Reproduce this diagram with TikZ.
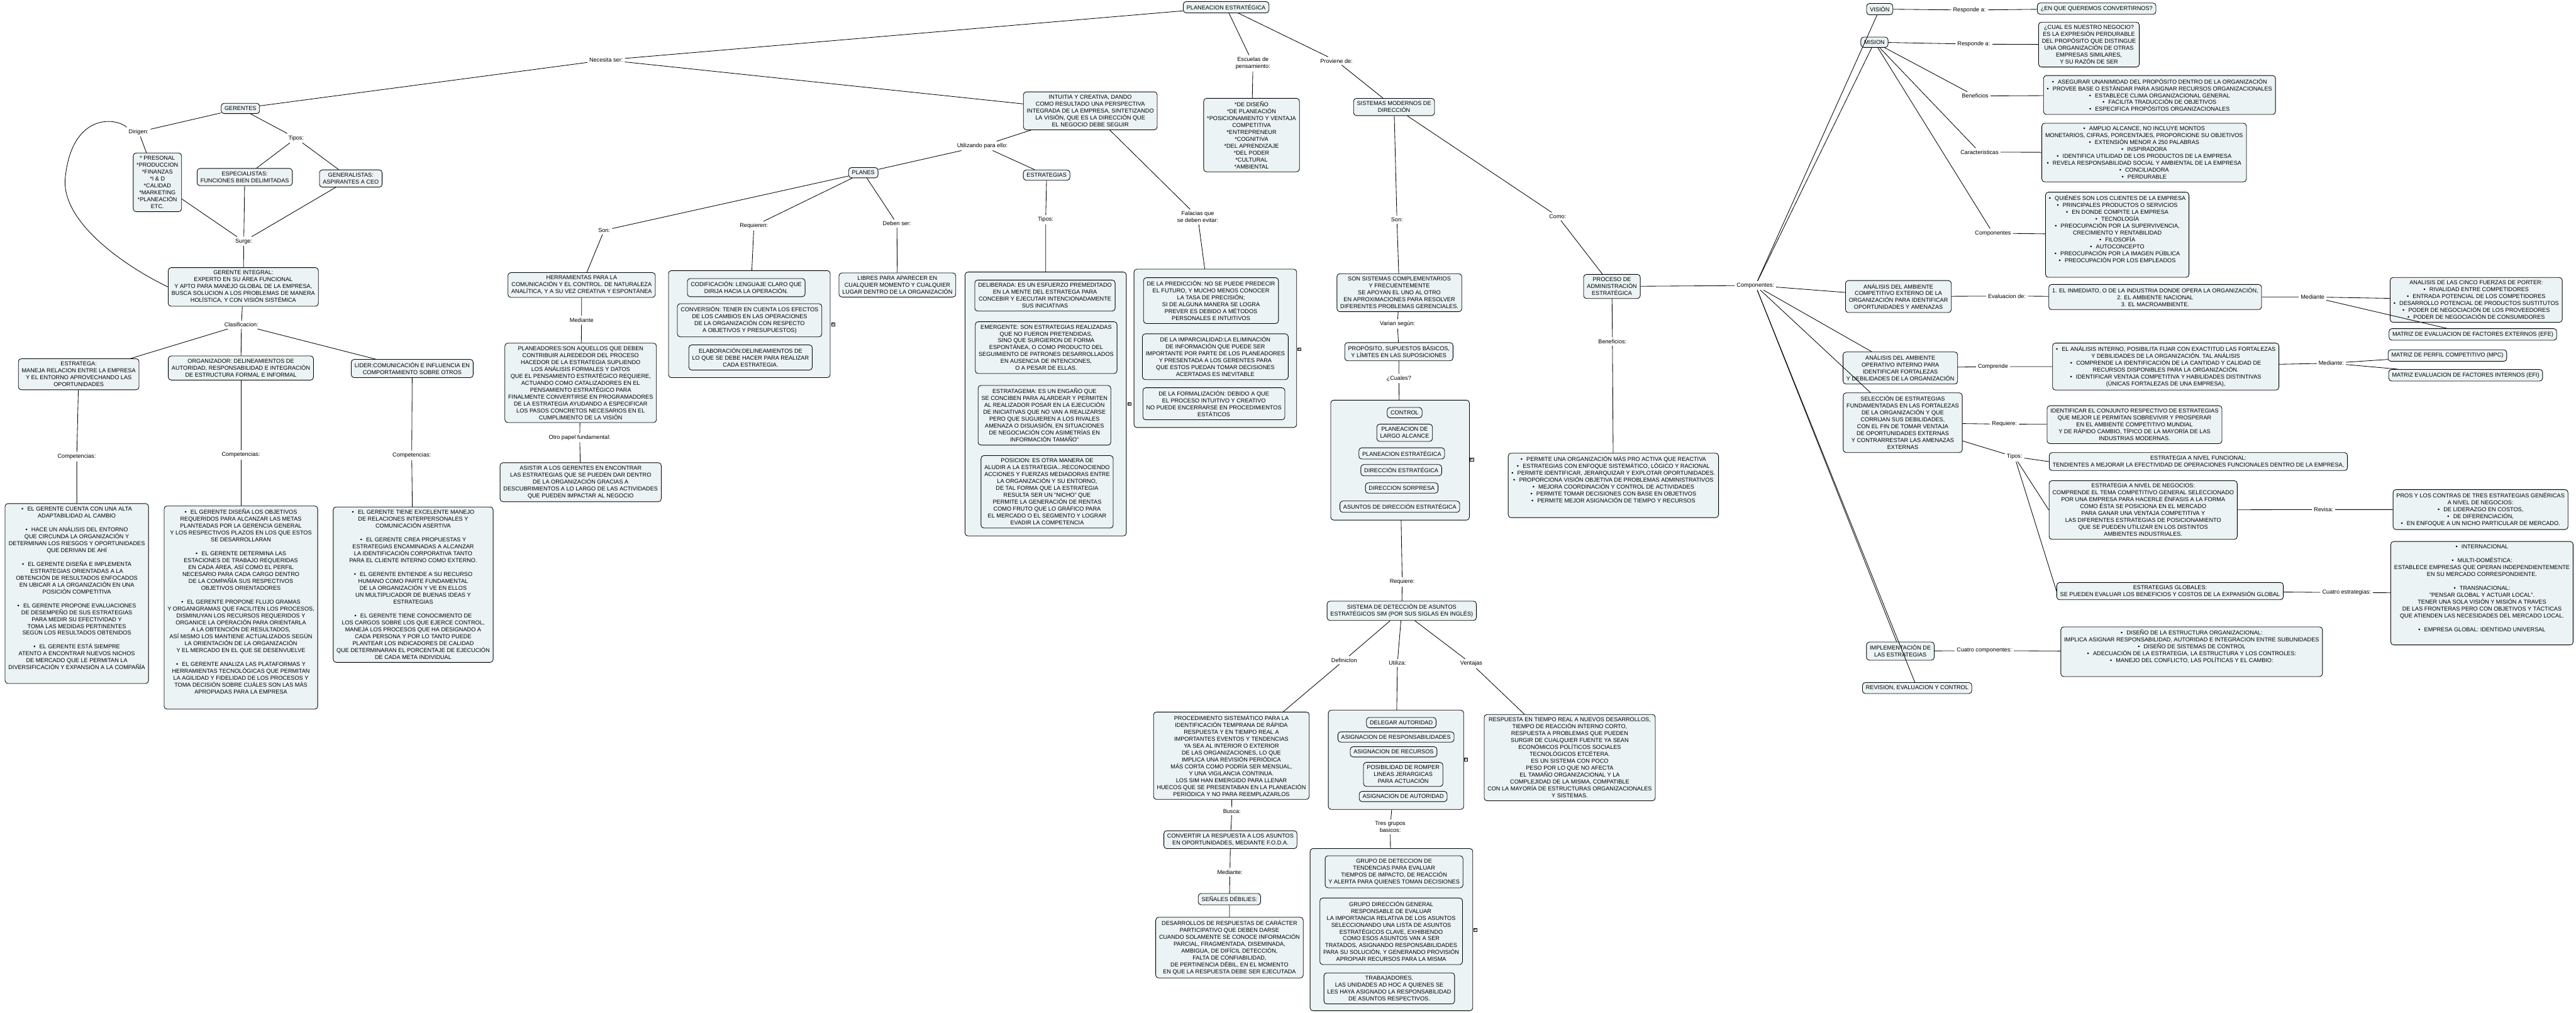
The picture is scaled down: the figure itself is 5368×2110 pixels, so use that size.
\documentclass[tikz,border=0pt]{standalone}
\usepackage{fontspec}
\setmainfont{Liberation Sans}
\definecolor{boxfill}{RGB}{236,243,245}
\newcommand{\fs}{\fontsize{12}{14.4}\selectfont}
\newcommand{\bul}{•\hspace{8pt}}
\begin{document}
\begin{tikzpicture}[x=1pt,y=-1pt,
 box/.style={draw=black,line width=1.1pt,fill=boxfill,rounded corners=6pt,align=center,inner xsep=7pt,inner ysep=6.5pt,font=\fs},
 lbl/.style={align=center,inner sep=4pt,font=\fs},
 cont/.style={draw=black,line width=1.1pt,fill=boxfill,rounded corners=6pt,inner sep=0pt},
 con/.style={line width=1.1pt},
 mk/.style={draw=black,line width=0.8pt,fill=white,inner sep=0.6pt,font=\fontsize{10}{10}\selectfont}]
\fill[white] (0,0) rectangle (5368,2110);
\useasboundingbox (0,0) rectangle (5368,2110);

% ---------- containers ----------
\node[cont,minimum width=337pt,minimum height=223pt] (reqc) at (1561.5,675.5) {};
\node[cont,minimum width=336pt,minimum height=550pt] (tipc) at (2179,842) {};
\node[cont,minimum width=339pt,minimum height=330pt] (falc) at (2532.5,726) {};
\node[cont,minimum width=289pt,minimum height=250pt] (cuac) at (2917.5,959) {};
\node[cont,minimum width=282pt,minimum height=207pt] (utzc) at (2909,1583.5) {};
\node[cont,minimum width=339pt,minimum height=338pt] (tresc) at (2899.5,1937.5) {};

% ---------- left part ----------
\node[box] (pe) at (2555,15) {PLANEACION ESTRATÉGICA};
\node[lbl] (lNec) at (1263,125) {Necesita ser:};
\node[box] (ger) at (501,226) {GERENTES};
\node[lbl] (lDir) at (289,275) {Dirigen:};
\node[lbl] (lTip1) at (617,288) {Tipos:};
\node[box] (pres) at (328,380) {* PRESONAL\\*PRODUCCION\\*FINANZAS\\*I \& D\\*CALIDAD\\*MARKETING\\*PLANEACIÓN\\ETC.};
\node[box] (espe) at (510,369) {ESPECIALISTAS:\\FUNCIONES BIEN DELIMITADAS};
\node[box] (gene) at (731,372) {GENERALISTAS:\\ASPIRANTES A CEO};
\node[lbl] (lSur) at (508,503) {Surge:};
\node[box] (gi) at (507,598) {GERENTE INTEGRAL:\\EXPERTO EN SU ÁREA FUNCIONAL\\Y APTO PARA MANEJO GLOBAL DE LA EMPRESA,\\BUSCA SOLUCION A LOS PROBLEMAS DE MANERA\\HOLÍSTICA, Y CON VISIÓN SISTÉMICA};
\node[lbl] (lCla) at (503,677) {Clasificacion:};
\node[box] (estg) at (164,780) {ESTRATEGA:\\MANEJA RELACION ENTRE LA EMPRESA\\Y EL ENTORNO APROVECHANDO LAS\\OPORTUNIDADES};
\node[box] (orga) at (502,767) {ORGANIZADOR: DELINEAMIENTOS DE\\AUTORIDAD, RESPONSABILIDAD E INTEGRACIÓN\\DE ESTRUCTURA FORMAL E INFORMAL};
\node[box] (lid) at (859,768) {LIDER:COMUNICACIÓN E INFLUENCIA EN\\COMPORTAMIENTO SOBRE OTROS};
\node[lbl] (lC1) at (160,952) {Competencias:};
\node[lbl] (lC2) at (502,948) {Competencias:};
\node[lbl] (lC3) at (858,949) {Competencias:};
\node[box,anchor=north] (c1) at (160,1049) {\bul EL GERENTE CUENTA CON UNA ALTA\\ADAPTABILIDAD AL CAMBIO\\[14.4pt]\bul HACE UN ANÁLISIS DEL ENTORNO\\QUE CIRCUNDA LA ORGANIZACIÓN Y\\DETERMINAN LOS RIESGOS Y OPORTUNIDADES\\QUE DERIVAN DE AHÍ\\[14.4pt]\bul EL GERENTE DISEÑA E IMPLEMENTA\\ESTRATEGIAS ORIENTADAS A LA\\OBTENCIÓN DE RESULTADOS ENFOCADOS\\EN UBICAR A LA ORGANIZACIÓN EN UNA\\POSICIÓN COMPETITIVA\\[14.4pt]\bul EL GERENTE PROPONE EVALUACIONES\\DE DESEMPEÑO DE SUS ESTRATEGIAS\\PARA MEDIR SU EFECTIVIDAD Y\\TOMA LAS MEDIDAS PERTINENTES\\SEGÚN LOS RESULTADOS OBTENIDOS\\[14.4pt]\bul EL GERENTE ESTÁ SIEMPRE\\ATENTO A ENCONTRAR NUEVOS NICHOS\\DE MERCADO QUE LE PERMITAN LA\\DIVERSIFICACIÓN Y EXPANSIÓN A LA COMPAÑÍA\\[8pt]\mbox{}};
\node[box,anchor=north] (c2) at (502,1054) {\bul EL GERENTE DISEÑA LOS OBJETIVOS\\REQUERIDOS PARA ALCANZAR LAS METAS\\PLANTEADAS POR LA GERENCIA GENERAL\\Y LOS RESPECTIVOS PLAZOS EN LOS QUE ESTOS\\SE DESARROLLARAN\\[14.4pt]\bul EL GERENTE DETERMINA LAS\\ESTACIONES DE TRABAJO REQUERIDAS\\EN CADA ÁREA, ASÍ COMO EL PERFIL\\NECESARIO PARA CADA CARGO DENTRO\\DE LA COMPAÑÍA SUS RESPECTIVOS\\OBJETIVOS ORIENTADORES\\[14.4pt]\bul EL GERENTE PROPONE FLUJO GRAMAS\\Y ORGANIGRAMAS QUE FACILITEN LOS PROCESOS,\\DISMINUYAN LOS RECURSOS REQUERIDOS Y\\ORGANICE LA OPERACIÓN PARA ORIENTARLA\\A LA OBTENCIÓN DE RESULTADOS,\\ASÍ MISMO LOS MANTIENE ACTUALIZADOS SEGÚN\\LA ORIENTACIÓN DE LA ORGANIZACIÓN\\Y EL MERCADO EN EL QUE SE DESENVUELVE\\[14.4pt]\bul EL GERENTE ANALIZA LAS PLATAFORMAS Y\\HERRAMIENTAS TECNOLÓGICAS QUE PERMITAN\\LA AGILIDAD Y FIDELIDAD DE LOS PROCESOS Y\\TOMA DECISIÓN SOBRE CUÁLES SON LAS MÁS\\APROPIADAS PARA LA EMPRESA\\[11pt]\mbox{}};
\node[box,anchor=north] (c3) at (861,1056) {\bul EL GERENTE TIENE EXCELENTE MANEJO\\DE RELACIONES INTERPERSONALES Y\\COMUNICACIÓN ASERTIVA\\[14.4pt]\bul EL GERENTE CREA PROPUESTAS Y\\ESTRATEGIAS ENCAMINADAS A ALCANZAR\\LA IDENTIFICACIÓN CORPORATIVA TANTO\\PARA EL CLIENTE INTERNO COMO EXTERNO.\\[14.4pt]\bul EL GERENTE ENTIENDE A SU RECURSO\\HUMANO COMO PARTE FUNDAMENTAL\\DE LA ORGANIZACIÓN Y VE EN ELLOS\\UN MULTIPLICADOR DE BUENAS IDEAS Y\\ESTRATEGIAS\\[14.4pt]\bul EL GERENTE TIENE CONOCIMIENTO DE\\LOS CARGOS SOBRE LOS QUE EJERCE CONTROL,\\MANEJA LOS PROCESOS QUE HA DESIGNADO A\\CADA PERSONA Y POR LO TANTO PUEDE\\PLANTEAR LOS INDICADORES DE CALIDAD\\QUE DETERMINARAN EL PORCENTAJE DE EJECUCIÓN\\DE CADA META INDIVIDUAL};

% ---------- centre-left ----------
\node[box] (intu) at (2272,231) {INTUITIA Y CREATIVA, DANDO\\COMO RESULTADO UNA PERSPECTIVA\\INTEGRADA DE LA EMPRESA, SINTETIZANDO\\LA VISIÓN, QUE ES LA DIRECCIÓN QUE\\EL NEGOCIO DEBE SEGUIR};
\node[lbl] (lEsc) at (2611,132) {Escuelas de\\pensamiento:};
\node[box] (dise) at (2608,281.5) {*DE DISEÑO\\*DE PLANEACIÓN\\*POSICIONAMIENTO Y VENTAJA\\COMPETITIVA\\*ENTREPRENEUR\\*COGNITIVA\\*DEL APRENDIZAJE\\*DEL PODER\\*CULTURAL\\*AMBIENTAL};
\node[lbl] (lUti) at (2047,304) {Utilizando para ello:};
\node[box] (plan) at (1799,360) {PLANES};
\node[box] (estr) at (2181,365) {ESTRATEGIAS};
\node[lbl] (lSon1) at (1259,480) {Son:};
\node[lbl] (lReq) at (1571,471) {Requieren:};
\node[lbl] (lDeb) at (1869,466) {Deben ser:};
\node[lbl] (lTip2) at (2179,458) {Tipos:};
\node[lbl] (lFal) at (2496,452) {Falacias que\\se deben evitar:};
\node[box] (herr) at (1212,594) {HERRAMIENTAS PARA LA\\COMUNICACIÓN Y EL CONTROL. DE NATURALEZA\\ANALÍTICA, Y A SU VEZ CREATIVA Y ESPONTÁNEA};
\node[lbl] (lMed1) at (1212,667) {Mediante};
\node[box] (plnd) at (1210,798) {PLANEADORES:SON AQUELLOS QUE DEBEN\\CONTRIBUIR ALREDEDOR DEL PROCESO\\HACEDOR DE LA ESTRATEGIA SUPLIENDO\\LOS ANÁLISIS FORMALES Y DATOS\\QUE EL PENSAMIENTO ESTRATÉGICO REQUIERE,\\ACTUANDO COMO CATALIZADORES EN EL\\PENSAMIENTO ESTRATÉGICO PARA\\FINALMENTE CONVERTIRSE EN PROGRAMADORES\\DE LA ESTRATEGIA AYUDANDO A ESPECIFICAR\\LOS PASOS CONCRETOS NECESARIOS EN EL\\CUMPLIMIENTO DE LA VISIÓN};
\node[lbl] (lOtro) at (1208,912) {Otro papel fundamental:};
\node[box] (asis) at (1210,1005) {ASISTIR A LOS GERENTES EN ENCONTRAR\\LAS ESTRATEGIAS QUE SE PUEDEN DAR DENTRO\\DE LA ORGANIZACIÓN GRACIAS A\\DESCUBRIMIENTOS A LO LARGO DE LAS ACTIVIDADES\\QUE PUEDEN IMPACTAR AL NEGOCIO};
\node[box] (cod) at (1555,599.5) {CODIFICACIÓN: LENGUAJE CLARO QUE\\DIRIJA HACIA LA OPERACIÓN.};
\node[box] (cnv) at (1562,667.5) {CONVERSIÓN: TENER EN CUENTA LOS EFECTOS\\DE LOS CAMBIOS EN LAS OPERACIONES\\DE LA ORGANIZACIÓN CON RESPECTO\\A OBJETIVOS Y PRESUPUESTOS)};
\node[box] (elab) at (1564,745) {ELABORACIÓN:DELINEAMIENTOS DE\\LO QUE SE DEBE HACER PARA REALIZAR\\CADA ESTRATEGIA.};
\node[box] (libr) at (1870,594) {LIBRES PARA APARECER EN\\CUALQUIER MOMENTO Y CUALQUIER\\LUGAR DENTRO DE LA ORGANIZACIÓN};
\node[box] (deli) at (2177.5,616) {DELIBERADA: ES UN ESFUERZO PREMEDITADO\\EN LA MENTE DEL ESTRATEGA PARA\\CONCEBIR Y EJECUTAR INTENCIONADAMENTE\\SUS INICIATIVAS};
\node[box] (emer) at (2180,724.5) {EMERGENTE: SON ESTRATEGIAS REALIZADAS\\QUE NO FUERON PRETENDIDAS,\\SINO QUE SURGIERON DE FORMA\\ESPONTÁNEA, O COMO PRODUCTO DEL\\SEGUIMIENTO DE PATRONES DESARROLLADOS\\EN AUSENCIA DE INTENCIONES,\\O A PESAR DE ELLAS.};
\node[box] (stgm) at (2176.5,865.5) {ESTRATAGEMA: ES UN ENGAÑO QUE\\SE CONCIBEN PARA ALARDEAR Y PERMITEN\\AL REALIZADOR POSAR EN LA EJECUCIÓN\\DE INICIATIVAS QUE NO VAN A REALIZARSE\\PERO QUE SUGUIEREN A LOS RIVALES\\AMENAZA O DISUASIÓN, EN SITUACIONES\\DE NEGOCIACIÓN CON ASIMETRÍAS EN\\INFORMACIÓN TAMAÑO"};
\node[box] (posi) at (2182,1025) {POSICION: ES OTRA MANERA DE\\ALUDIR A LA ESTRATEGIA...RECONOCIENDO\\ACCIONES Y FUERZAS MEDIADORAS ENTRE\\LA ORGANIZACIÓN Y SU ENTORNO,\\DE TAL FORMA QUE LA ESTRATEGIA\\RESULTA SER UN "NICHO" QUE\\PERMITE LA GENERACIÓN DE RENTAS\\COMO FRUTO QUE LO GRÁFICO PARA\\EL MERCADO O EL SEGMENTO Y LOGRAR\\EVADIR LA COMPETENCIA};
\node[box] (pred) at (2523.5,626.5) {DE LA PREDICCIÓN: NO SE PUEDE PREDECIR\\EL FUTURO, Y MUCHO MENOS CONOCER\\LA TASA DE PRECISIÓN;\\SI DE ALGUNA MANERA SE LOGRA\\PREVER ES DEBIDO A MÉTODOS\\PERSONALES E INTUITIVOS};
\node[box] (impa) at (2532.5,743.5) {DE LA IMPARCIALIDAD:LA ELIMINACIÓN\\DE INFORMACIÓN QUE PUEDE SER\\IMPORTANTE POR PARTE DE LOS PLANEADORES\\Y PRESENTADA A LOS GERENTES PARA\\QUE ESTOS PUEDAN TOMAR DECISIONES\\ACERTADAS ES INEVITABLE};
\node[box] (form) at (2529.5,841.5) {DE LA FORMALIZACIÓN: DEBIDO A QUE\\EL PROCESO INTUITIVO Y CREATIVO\\NO PUEDE ENCERRARSE EN PROCEDIMIENTOS\\ESTÁTICOS};

% ---------- centre ----------
\node[lbl] (lPro) at (2785,127) {Proviene de:};
\node[box] (sist) at (2905,223) {SISTEMAS MODERNOS DE\\DIRECCIÓN};
\node[lbl] (lSon2) at (2911,458) {Son:};
\node[lbl] (lComo) at (3246,451) {Como:};
\node[box] (ssc) at (2916,610) {SON SISTEMAS COMPLEMENTARIOS\\Y FRECUENTEMENTE\\SE APOYAN EL UNO AL OTRO\\EN APROXIMACIONES PARA RESOLVER\\DIFERENTES PROBLEMAS GERENCIALES.};
\node[lbl] (lVar) at (2912,675) {Varian según:};
\node[box] (prop) at (2915,733) {PROPÓSITO, SUPUESTOS BÁSICOS,\\Y LÍMITES EN LAS SUPOSICIONES};
\node[lbl] (lCua) at (2915,789) {¿Cuales?};
\node[box] (ctrl) at (2927,860) {CONTROL};
\node[box] (pla) at (2927,902) {PLANEACION DE\\LARGO ALCANCE};
\node[box] (ples) at (2921,945) {PLANEACION ESTRATÉGICA};
\node[box] (dies) at (2920,980) {DIRECCIÓN ESTRATÉGICA};
\node[box] (disr) at (2921,1017) {DIRECCION SORPRESA};
\node[box] (asun) at (2917,1056) {ASUNTOS DE DIRECCIÓN ESTRATÉGICA};
\node[lbl] (lReq2) at (2922,1213) {Requiere:};
\node[box] (sim) at (2921,1273) {SISTEMA DE DETECCIÓN DE ASUNTOS\\ESTRATÉGICOS SIM (POR SUS SIGLAS EN INGLÉS)};
\node[lbl] (lDef) at (2801,1376) {DefinicIon};
\node[lbl] (lUtz) at (2912,1382) {Utiliza:};
\node[lbl] (lVen) at (3066,1383) {Ventajas};
\node[box] (proc) at (2566,1575) {PROCEDIMIENTO SISTEMÁTICO PARA LA\\IDENTIFICACIÓN TEMPRANA DE RÁPIDA\\RESPUESTA Y EN TIEMPO REAL A\\IMPORTANTES EVENTOS Y TENDENCIAS\\YA SEA AL INTERIOR O EXTERIOR\\DE LAS ORGANIZACIONES, LO QUE\\IMPLICA UNA REVISIÓN PERIÓDICA\\MÁS CORTA COMO PODRÍA SER MENSUAL,\\Y UNA VIGILANCIA CONTINUA.\\LOS SIM HAN EMERGIDO PARA LLENAR\\HUECOS QUE SE PRESENTABAN EN LA PLANEACIÓN\\PERIÓDICA Y NO PARA REEMPLAZARLOS};
\node[lbl] (lBus) at (2567,1691) {Busca:};
\node[box] (conv) at (2564,1750) {CONVERTIR LA RESPUESTA A LOS ASUNTOS\\EN OPORTUNIDADES, MEDIANTE F.O.D.A.};
\node[lbl] (lMed2) at (2563,1818) {Mediante:};
\node[box] (sen) at (2562,1874) {SEÑALES DÉBILIES:};
\node[box] (desa) at (2562,1975) {DESARROLLOS DE RESPUESTAS DE CARÁCTER\\PARTICIPATIVO QUE DEBEN DARSE\\CUANDO SOLAMENTE SE CONOCE INFORMACIÓN\\PARCIAL, FRAGMENTADA, DISEMINADA,\\AMBIGUA, DE DIFÍCIL DETECCIÓN,\\FALTA DE CONFIABILIDAD,\\DE PERTINENCIA DÉBIL, EN EL MOMENTO\\EN QUE LA RESPUESTA DEBE SER EJECUTADA};
\node[box] (dele) at (2920,1506) {DELEGAR AUTORIDAD};
\node[box] (asre) at (2909,1536) {ASIGNACION DE RESPONSABILIDADES};
\node[box] (asrc) at (2904,1567) {ASIGNACION DE RECURSOS};
\node[box] (posr) at (2924,1614) {POSIBILIDAD DE ROMPER\\LINEAS JERARGICAS\\PARA ACTUACIÓN};
\node[box] (asau) at (2924,1660) {ASIGNACION DE AUTORIDAD};
\node[box] (resp) at (3271,1579) {RESPUESTA EN TIEMPO REAL A NUEVOS DESARROLLOS,\\TIEMPO DE REACCIÓN INTERNO CORTO,\\RESPUESTA A PROBLEMAS QUE PUEDEN\\SURGIR DE CUALQUIER FUENTE YA SEAN\\ECONÓMICOS POLÍTICOS SOCIALES\\TECNOLÓGICOS ETCÉTERA.\\ES UN SISTEMA CON POCO\\PESO POR LO QUE NO AFECTA\\EL TAMAÑO ORGANIZACIONAL Y LA\\COMPLEJIDAD DE LA MISMA, COMPATIBLE\\CON LA MAYORÍA DE ESTRUCTURAS ORGANIZACIONALES\\Y SISTEMAS.};
\node[lbl] (lTres) at (2897,1723) {Tres grupos\\basicos:};
\node[box] (gdet) at (2905,1817) {GRUPO DE DETECCION DE\\TENDENCIAS PARA EVALUAR\\TIEMPOS DE IMPACTO, DE REACCIÓN\\Y ALERTA PARA QUIENES TOMAN DECISIONES};
\node[box] (gdir) at (2899,1941) {GRUPO DIRECCIÓN GENERAL\\RESPONSABLE DE EVALUAR\\LA IMPORTANCIA RELATIVA DE LOS ASUNTOS\\SELECCIONANDO UNA LISTA DE ASUNTOS\\ESTRATÉGICOS CLAVE, EXHIBIENDO\\COMO ESOS ASUNTOS VAN A SER\\TRATADOS, ASIGNANDO RESPONSABILIDADES\\PARA SU SOLUCIÓN, Y GENERANDO PROVISIÓN\\APROPIAR RECURSOS PARA LA MISMA};
\node[box] (trab) at (2895,2060) {TRABAJADORES.\\LAS UNIDADES AD HOC A QUIENES SE\\LES HAYA ASIGNADO LA RESPONSABILIDAD\\DE ASUNTOS RESPECTIVOS.};
\node[box] (pad) at (3359,597) {PROCESO DE\\ADMINISTRACIÓN\\ESTRATÉGICA};
\node[lbl] (lComp) at (3658,595) {Componentes:};
\node[lbl] (lBen) at (3360,712) {Beneficios:};
\node[box,anchor=north] (ben) at (3362,944) {\bul PERMITE UNA ORGANIZACIÓN MÁS PRO ACTIVA QUE REACTIVA\\\bul ESTRATEGIAS CON ENFOQUE SISTEMÁTICO, LÓGICO Y RACIONAL\\\bul PERMITE IDENTIFICAR, JERARQUIZAR Y EXPLOTAR OPORTUNIDADES.\\\bul PROPORCIONA VISIÓN OBJETIVA DE PROBLEMAS ADMINISTRATIVOS\\\bul MEJORA COORDINACIÓN Y CONTROL DE ACTIVIDADES\\\bul PERMITE TOMAR DECISIONES CON BASE EN OBJETIVOS\\\bul PERMITE MEJOR ASIGNACIÓN DE TIEMPO Y RECURSOS\\[10pt]\mbox{}};

% ---------- right part ----------
\node[box] (vis) at (3917,19) {VISIÓN};
\node[box] (mis) at (3906,88) {MISION};
\node[lbl] (lRes1) at (4104,21) {Responde a:};
\node[box] (enq) at (4369,18) {¿EN QUE QUEREMOS CONVERTIRNOS?};
\node[lbl] (lRes2) at (4113,92) {Responde a:};
\node[box] (cual) at (4353,93) {¿CUAL ES NUESTRO NEGOCIO?\\ES LA EXPRESIÓN PERDURABLE\\DEL PROPÓSITO QUE DISTINGUE\\UNA ORGANIZACIÓN DE OTRAS\\EMPRESAS SIMILARES,\\Y SU RAZÓN DE SER};
\node[lbl] (lBen2) at (4116,200) {Beneficios};
\node[box] (aseg) at (4500,198) {\bul ASEGURAR UNANIMIDAD DEL PROPÓSITO DENTRO DE LA ORGANIZACIÓN\\\bul PROVEE BASE O ESTÁNDAR PARA ASIGNAR RECURSOS ORGANIZACIONALES\\\bul ESTABLECE CLIMA ORGANIZACIONAL GENERAL\\\bul FACILITA TRADUCCIÓN DE OBJETIVOS\\\bul ESPECIFICA PROPÓSITOS ORGANIZACIONALES};
\node[lbl] (lCar) at (4125,317) {Caracteristicas};
\node[box] (ampl) at (4468,318) {\bul AMPLIO ALCANCE, NO INCLUYE MONTOS\\MONETARIOS, CIFRAS, PORCENTAJES, PROPORCIONE SU OBJETIVOS\\\bul EXTENSIÓN MENOR A 250 PALABRAS\\\bul INSPIRADORA\\\bul IDENTIFICA UTILIDAD DE LOS PRODUCTOS DE LA EMPRESA\\\bul REVELA RESPONSABILIDAD SOCIAL Y AMBIENTAL DE LA EMPRESA\\\bul CONCILIADORA\\\bul PERDURABLE};
\node[lbl] (lComp2) at (4153,486) {Componentes};
\node[box,anchor=north] (quien) at (4412,400) {\bul QUIÉNES SON LOS CLIENTES DE LA EMPRESA\\\bul PRINCIPALES PRODUCTOS O SERVICIOS\\\bul EN DONDE COMPITE LA EMPRESA\\\bul TECNOLOGÍA\\\bul PREOCUPACIÓN POR LA SUPERVIVENCIA,\\CRECIMIENTO Y RENTABILIDAD\\\bul FILOSOFÍA\\\bul AUTOCONCEPTO\\\bul PREOCUPACIÓN POR LA IMAGEN PÚBLICA\\\bul PREOCUPACIÓN POR LOS EMPLEADOS\\[10pt]\mbox{}};
\node[box] (aext) at (3956,618) {ANÁLISIS DEL AMBIENTE\\COMPETITIVO EXTERNO DE LA\\ORGANIZACIÓN PARA IDENTIFICAR\\OPORTUNIDADES Y AMENAZAS};
\node[lbl] (lEva) at (4182,617) {Evaluacion de:};
\node[box] (inme) at (4491,619) {1. EL INMEDIATO, O DE LA INDUSTRIA DONDE OPERA LA ORGANIZACIÓN,\\2. EL AMBIENTE NACIONAL\\3. EL MACROAMBIENTE.};
\node[lbl] (lMed3) at (4819,619) {Mediante};
\node[box] (cinco) at (5160,625) {ANALISIS DE LAS CINCO FUERZAS DE PORTER:\\\bul RIVALIDAD ENTRE COMPETIDORES\\\bul ENTRADA POTENCIAL DE LOS COMPETIDORES\\\bul DESARROLLO POTENCIAL DE PRODUCTOS SUSTITUTOS\\\bul PODER DE NEGOCIACIÓN DE LOS PROVEEDORES\\\bul PODER DE NEGOCIACIÓN DE CONSUMIDORES};
\node[box] (efe) at (5153,697) {MATRIZ DE EVALUACION DE FACTORES EXTERNOS (EFE)};
\node[box] (aint) at (3960,767) {ANÁLISIS DEL AMBIENTE\\OPERATIVO INTERNO PARA\\IDENTIFICAR FORTALEZAS\\Y DEBILIDADES DE LA ORGANIZACIÓN};
\node[lbl] (lCompr) at (4153,764) {Comprende};
\node[box] (anint) at (4513,764) {\bul EL ANÁLISIS INTERNO, POSIBILITA FIJAR CON EXACTITUD LAS FORTALEZAS\\Y DEBILIDADES DE LA ORGANIZACIÓN. TAL ANÁLISIS\\\bul COMPRENDE LA IDENTIFICACIÓN DE LA CANTIDAD Y CALIDAD DE\\RECURSOS DISPONIBLES PARA LA ORGANIZACIÓN.\\\bul IDENTIFICAR VENTAJA COMPETITIVA Y HABILIDADES DISTINTIVAS\\(ÚNICAS FORTALEZAS DE UNA EMPRESA),};
\node[lbl] (lMed4) at (4858,757) {Mediante:};
\node[box] (mpc) at (5100,741) {MATRIZ DE PERFIL COMPETITIVO (MPC)};
\node[box] (efi) at (5138,782) {MATRIZ EVALUACION DE FACTORES INTERNOS (EFI)};
\node[box] (sel) at (3965,881) {SELECCIÓN DE ESTRATEGIAS\\FUNDAMENTADAS EN LAS FORTALEZAS\\DE LA ORGANIZACIÓN Y QUE\\CORRIJAN SUS DEBILIDADES,\\CON EL FIN DE TOMAR VENTAJA\\DE OPORTUNIDADES EXTERNAS\\Y CONTRARRESTAR LAS AMENAZAS\\EXTERNAS};
\node[lbl] (lReq3) at (4177,884) {Requiere:};
\node[box] (iden) at (4448,885) {IDENTIFICAR EL CONJUNTO RESPECTIVO DE ESTRATEGIAS\\QUE MEJOR LE PERMITAN SOBREVIVIR Y PROSPERAR\\EN EL AMBIENTE COMPETITIVO MUNDIAL\\Y DE RÁPIDO CAMBIO, TÍPICO DE LA MAYORÍA DE LAS\\INDUSTRIAS MODERNAS.};
\node[lbl] (lTip3) at (4198,952) {Tipos:};
\node[box] (func) at (4581,962) {ESTRATEGIA A NIVEL FUNCIONAL:\\TENDIENTES A MEJORAR LA EFECTIVIDAD DE OPERACIONES FUNCIONALES DENTRO DE LA EMPRESA,};
\node[box] (nego) at (4466,1063) {ESTRATEGIA A NIVEL DE NEGOCIOS:\\COMPRENDE EL TEMA COMPETITIVO GENERAL SELECCIONADO\\POR UNA EMPRESA PARA HACERLE ÉNFASIS A LA FORMA\\COMO ÉSTA SE POSICIONA EN EL MERCADO\\PARA GANAR UNA VENTAJA COMPETITIVA Y\\LAS DIFERENTES ESTRATEGIAS DE POSICIONAMIENTO\\QUE SE PUEDEN UTILIZAR EN LOS DISTINTOS\\AMBIENTES INDUSTRIALES.};
\node[lbl] (lRev) at (4842,1062) {Revisa:};
\node[box] (pros) at (5169,1062) {PROS Y LOS CONTRAS DE TRES ESTRATEGIAS GENÉRICAS\\A NIVEL DE NEGOCIOS:\\\bul DE LIDERAZGO EN COSTOS,\\\bul DE DIFERENCIACIÓN,\\\bul EN ENFOQUE A UN NICHO PARTICULAR DE MERCADO.};
\node[box] (glob) at (4522,1232) {ESTRATEGIAS GLOBALES:\\SE PUEDEN EVALUAR LOS BENEFICIOS Y COSTOS DE LA EXPANSIÓN GLOBAL};
\node[lbl] (lCua4) at (4890,1235) {Cuatro estrategias:};
\node[box,anchor=north] (inter) at (5172,1128) {\bul INTERNACIONAL\\[14.4pt]\bul MULTI-DOMÉSTICA:\\ESTABLECE EMPRESAS QUE OPERAN INDEPENDIENTEMENTE\\EN SU MERCADO CORRESPONDIENTE.\\[14.4pt]\bul TRANSNACIONAL:\\"PENSAR GLOBAL Y ACTUAR LOCAL".\\TENER UNA SOLA VISIÓN Y MISIÓN A TRAVES\\DE LAS FRONTERAS PERO CON OBJETIVOS Y TÁCTICAS\\QUE ATIENDEN LAS NECESIDADES DEL MERCADO LOCAL.\\[14.4pt]\bul EMPRESA GLOBAL: IDENTIDAD UNIVERSAL\\[7pt]\mbox{}};
\node[box] (impl) at (3960,1357) {IMPLEMENTACIÓN DE\\LAS ESTRATEGIAS};
\node[lbl] (lCua5) at (4135,1356) {Cuatro componentes:};
\node[box,anchor=north] (dsn) at (4567,1306) {\bul DISEÑO DE LA ESTRUCTURA ORGANIZACIONAL:\\IMPLICA ASIGNAR RESPONSABILIDAD, AUTORIDAD E INTEGRACION ENTRE SUBUNIDADES\\\bul DISEÑO DE SISTEMAS DE CONTROL\\\bul ADECUACIÓN DE LA ESTRATEGIA, LA ESTRUCTURA Y LOS CONTROLES:\\\bul MANEJO DEL CONFLICTO, LAS POLÍTICAS Y EL CAMBIO:\\[8pt]\mbox{}};
\node[box] (rev) at (3995,1434) {REVISION, EVALUACION Y CONTROL};

% ---------- collapse markers ----------
\node[mk] (mk1) at (1736,676) {«};
\node[mk] (mk2) at (2353,842) {«};
\node[mk] (mk3) at (2707,728) {«};
\node[mk] (mk4) at (3067,958) {«};
\node[mk] (mk5) at (3055,1583) {«};
\node[mk] (mk6) at (3074,1938) {«};

% ---------- connectors ----------
\draw[con] (pe) -- (lNec);
\draw[con] (lNec) -- (ger);
\draw[con] (lNec) -- (intu);
\draw[con] (pe) -- (lEsc) -- (dise);
\draw[con] (pe) -- (lPro) -- (sist);
\draw[con] (ger) -- (lDir) -- (pres);
\draw[con] (ger) -- (lTip1) -- (espe);
\draw[con] (lTip1) -- (gene);
\draw[con] (pres) -- (lSur);
\draw[con] (espe) -- (lSur);
\draw[con] (gene) -- (lSur);
\draw[con] (lSur) -- (gi);
\draw[con] (lDir.north west) .. controls (240,244) and (150,236) .. (136,370) .. controls (126,466) and (270,560) .. (gi.west);
\draw[con] (gi) -- (lCla);
\draw[con] (lCla) -- (estg);
\draw[con] (lCla) -- (orga);
\draw[con] (lCla) -- (lid);
\draw[con] (estg) -- (lC1) -- (c1);
\draw[con] (orga) -- (lC2) -- (c2);
\draw[con] (lid) -- (lC3) -- (c3);
\draw[con] (intu) -- (lUti);
\draw[con] (lUti) -- (plan);
\draw[con] (lUti) -- (estr);
\draw[con] (intu) -- (lFal) -- (falc);
\draw[con] (plan) -- (lSon1) -- (herr);
\draw[con] (plan) -- (lReq) -- (reqc);
\draw[con] (plan) -- (lDeb) -- (libr);
\draw[con] (estr) -- (lTip2) -- (tipc);
\draw[con] (herr) -- (lMed1) -- (plnd) -- (lOtro) -- (asis);
\draw[con] (sist) -- (lSon2) -- (ssc) -- (lVar) -- (prop) -- (lCua) -- (cuac) -- (lReq2) -- (sim);
\draw[con] (sim) -- (lDef) -- (proc) -- (lBus) -- (conv) -- (lMed2) -- (sen) -- (desa);
\draw[con] (sim) -- (lUtz) -- (utzc) -- (lTres) -- (tresc);
\draw[con] (sim) -- (lVen) -- (resp);
\draw[con] (sist) -- (lComo) -- (pad);
\draw[con] (pad) -- (lComp);
\draw[con] (pad) -- (lBen) -- (ben);
\draw[con] (lComp) -- (vis);
\draw[con] (lComp) -- (mis);
\draw[con] (lComp) -- (aext);
\draw[con] (lComp) -- (aint);
\draw[con] (lComp) -- (sel);
\draw[con] (lComp) -- (impl);
\draw[con] (lComp) -- (rev);
\draw[con] (vis) -- (lRes1) -- (enq);
\draw[con] (mis) -- (lRes2) -- (cual);
\draw[con] (mis) -- (lBen2) -- (aseg);
\draw[con] (mis) -- (lCar) -- (ampl);
\draw[con] (mis) -- (lComp2) -- (quien);
\draw[con] (aext) -- (lEva) -- (inme) -- (lMed3) -- (cinco);
\draw[con] (lMed3) -- (efe);
\draw[con] (aint) -- (lCompr) -- (anint) -- (lMed4) -- (mpc);
\draw[con] (lMed4) -- (efi);
\draw[con] (sel) -- (lReq3) -- (iden);
\draw[con] (sel) -- (lTip3);
\draw[con] (lTip3) -- (func.west);
\draw[con] (lTip3) -- (nego.west);
\draw[con] (lTip3) -- (glob.west);
\draw[con] (nego) -- (lRev) -- (pros);
\draw[con] (glob) -- (lCua4) -- (inter);
\draw[con] (impl) -- (lCua5) -- (dsn);
\end{tikzpicture}
\end{document}
